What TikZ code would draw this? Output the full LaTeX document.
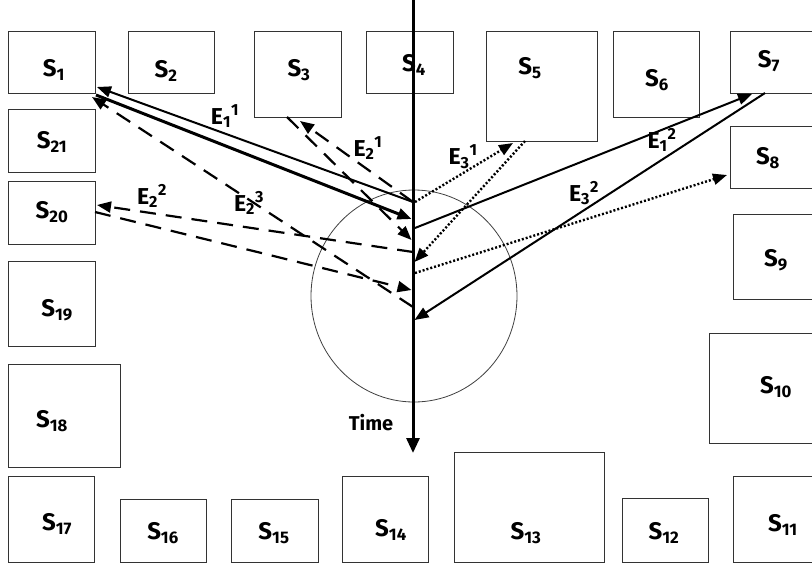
\documentclass[tikz,border=0pt]{standalone}
\usepackage{fontspec}
\setmainfont{Fira Sans}
\usetikzlibrary{arrows.meta}

% station box: name, x1, y1, x2, y2, index, label x, label y
\newcommand\stationbox[8]{%
  \node[box, minimum width={(#4-#2)*1pt}, minimum height={(#5-#3)*1pt}] (#1) at (#2,#3) {};
  \node[slbl] (l#1) at (#7,#8) {S\textsubscript{#6}};
}

\begin{document}
\begin{tikzpicture}[x=1pt,y=-1pt,
  box/.style={draw=black!80, line width=1pt, inner sep=0pt, outer sep=0pt, anchor=north west},
  slbl/.style={font=\bfseries\fontsize{24}{24}\selectfont, inner sep=0pt},
  elbl/.style={font=\bfseries\fontsize{23}{23}\selectfont, inner sep=0pt},
  tlbl/.style={font=\bfseries\fontsize{20}{20}\selectfont, inner sep=0pt},
  tip/.style={-{Triangle[length=14pt,width=11pt]}},
  msg/.style={line width=2pt, tip},
  heavymsg/.style={line width=3pt, tip},
  dashmsg/.style={line width=2.2pt, tip, dash pattern=on 16pt off 10pt},
  dotmsg/.style={line width=2.4pt, tip, dash pattern=on 2pt off 2pt},
  timeaxis/.style={line width=3pt, -{Triangle[length=15pt,width=13pt]}}]
\useasboundingbox (0,0) rectangle (812,565);
\clip (0,0) rectangle (812,565);

% stations around the border
\stationbox{s1}{8}{31}{95}{93}{1}{54}{70}
\stationbox{s2}{128}{31}{214}{93}{2}{166}{71}
\stationbox{s3}{254}{31}{341}{117}{3}{299}{70}
\stationbox{s4}{366}{31}{453}{93}{4}{414}{65}
\stationbox{s5}{486}{31}{597}{141}{5}{530}{68}
\stationbox{s6}{613}{31}{699}{117}{6}{657}{80}
\stationbox{s7}{730}{31}{830}{93}{7}{769}{61}
\stationbox{s8}{730}{126}{830}{188}{8}{768}{158}
\stationbox{s9}{733}{214}{830}{299}{9}{776}{260}
\stationbox{s10}{709}{333}{830}{443}{10}{776}{387}
\stationbox{s11}{733}{476}{830}{562}{11}{783}{525}
\stationbox{s12}{622}{498}{708}{562}{12}{664}{533}
\stationbox{s13}{454}{452}{604}{562}{13}{526}{533}
\stationbox{s14}{342}{476}{428}{562}{14}{391}{530}
\stationbox{s15}{231}{499}{318}{562}{15}{274}{533}
\stationbox{s16}{120}{499}{206}{562}{16}{163}{533}
\stationbox{s17}{8}{476}{94}{562}{17}{57}{524}
\stationbox{s18}{8}{364}{120}{467}{18}{52}{421}
\stationbox{s19}{8}{261}{95}{346}{19}{57}{310}
\stationbox{s20}{8}{181}{95}{244}{20}{52}{212}
\stationbox{s21}{8}{109}{95}{172}{21}{52}{142}

% neighbourhood of the events on the time line
\draw[black!75, line width=0.8pt] (414,296) ellipse [x radius=103, y radius=106];

% events on the time line
\coordinate (t1) at (413,202);
\coordinate (t1r) at (415,202);
\coordinate (r1) at (411.5,219);
\coordinate (t2) at (415,228);
\coordinate (r2) at (411.5,240);
\coordinate (t3) at (413,252);
\coordinate (r3) at (414.5,262);
\coordinate (t4) at (415,273);
\coordinate (r4) at (411.5,290);
\coordinate (t5) at (413,307);
\coordinate (r5) at (414.5,320);

% ends at the stations
\coordinate (s1a) at (97,87);
\coordinate (s1b) at (96,95);
\coordinate (s1c) at (92,97);
\coordinate (s3a) at (300,121);
\coordinate (s3b) at (287,117);
\coordinate (s5a) at (513,143);
\coordinate (s5b) at (525,141);
\coordinate (s7a) at (752,94);
\coordinate (s7b) at (765,93);
\coordinate (s8a) at (727,175);
\coordinate (s20a) at (97,205);
\coordinate (s20b) at (95,212);

% messages
\draw[msg] (t1) -- (s1a);
\draw[heavymsg] (s1b) -- (r1);
\draw[dashmsg] (t1) -- (s3a);
\draw[dashmsg] (s3b) -- (r2);
\draw[dotmsg] (t1r) -- (s5a);
\draw[msg] (t2) -- (s7a);
\draw[dashmsg] (t3) -- (s20a);
\draw[dotmsg] (s5b) -- (r3);
\draw[dotmsg] (t4) -- (s8a);
\draw[dashmsg] (s20b) -- (r4);
\draw[dashmsg] (t5) -- (s1c);
\draw[msg] (s7b) -- (r5);

% message labels
\node[elbl] (e11) at (225,116) {E\textsubscript{1}\textsuperscript{1}};
\node[elbl] (e21) at (368,148) {E\textsubscript{2}\textsuperscript{1}};
\node[elbl] (e22) at (152,196) {E\textsubscript{2}\textsuperscript{2}};
\node[elbl] (e23) at (249,203) {E\textsubscript{2}\textsuperscript{3}};
\node[elbl] (e31) at (463,157) {E\textsubscript{3}\textsuperscript{1}};
\node[elbl] (e12) at (662,140) {E\textsubscript{1}\textsuperscript{2}};
\node[elbl] (e32) at (584,193) {E\textsubscript{3}\textsuperscript{2}};

% time line
\coordinate (axtop) at (413,0);
\coordinate (axend) at (413,453);
\draw[timeaxis] (axtop) -- (axend);
\node[tlbl] (time) at (371,423) {Time};
\end{tikzpicture}
\end{document}
